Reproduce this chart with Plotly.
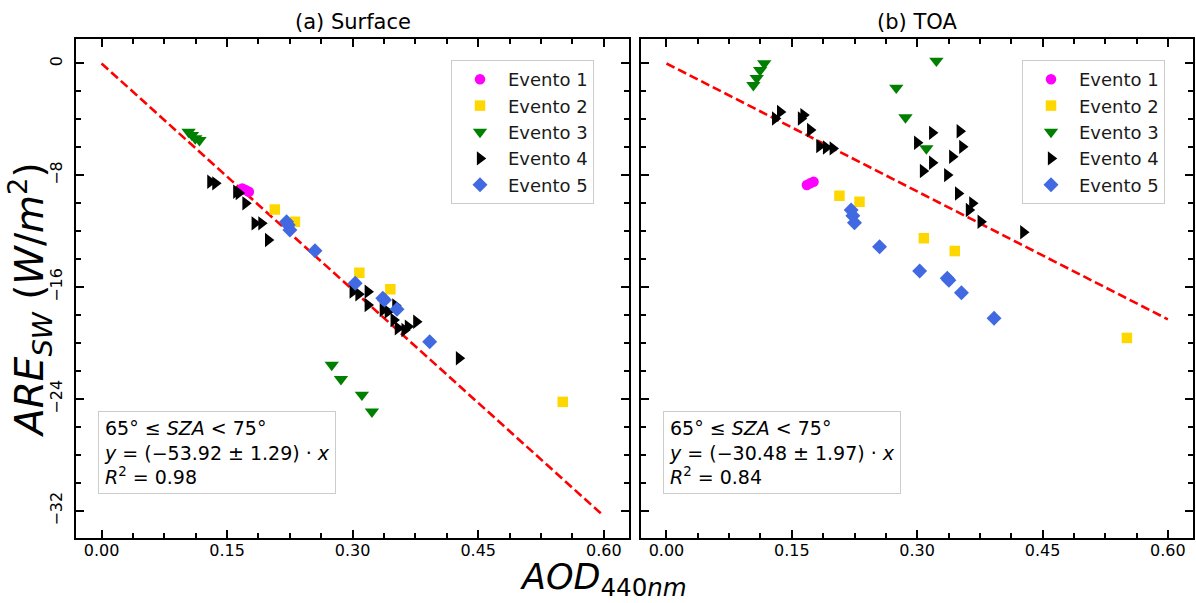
import plotly.graph_objects as go

# ---- data -----------------------------------------------------------------
events = ["Evento 1", "Evento 2", "Evento 3", "Evento 4", "Evento 5"]
colors = ["#ff00ff", "#ffd700", "#008000", "#000000", "#4169e1"]
symbols = ["circle", "square", "triangle-down", "triangle-right", "diamond"]
marker_sizes = [10.5, 10.5, 12.5, 12.5, 11.5]

# AOD at 440 nm per event (shared by both panels)
aod_e1 = [0.168, 0.172, 0.176]
aod_e2 = [0.207, 0.231, 0.308, 0.345, 0.551]
aod_e3 = [0.104, 0.108, 0.112, 0.117, 0.275, 0.286, 0.311, 0.323]
aod_e4 = [0.130, 0.136, 0.161, 0.164, 0.172, 0.183, 0.191, 0.199, 0.300, 0.307,
          0.318, 0.318, 0.336, 0.342, 0.349, 0.351, 0.354, 0.362, 0.366, 0.376,
          0.427]
aod_e5 = [0.221, 0.223, 0.225, 0.255, 0.303, 0.336, 0.338, 0.353, 0.392]

# Radiative effect at the surface (W/m2)
sfc_e1 = [-8.93, -9.05, -9.17]
sfc_e2 = [-10.43, -11.31, -14.96, -16.14, -24.19]
sfc_e3 = [-4.89, -5.12, -5.36, -5.48, -21.55, -22.57, -23.69, -24.89]
sfc_e4 = [-8.46, -8.57, -9.17, -9.26, -10.00, -11.43, -11.43, -12.62, -16.31,
          -16.50, -16.31, -17.26, -17.62, -17.74, -18.34, -17.30, -18.93,
          -19.05, -18.81, -18.46, -21.07]
sfc_e5 = [-11.31, -11.55, -11.91, -13.39, -15.71, -16.79, -16.91, -17.57, -19.89]

# Radiative effect at the top of the atmosphere (W/m2)
toa_e1 = [-8.69, -8.57, -8.46]
toa_e2 = [-9.46, -9.89, -12.50, -13.41, -19.62]
toa_e3 = [-1.55, -1.05, -0.48, 0.00, -1.74, -3.86, -6.07, 0.19]
toa_e4 = [-3.93, -3.46, -3.93, -3.69, -4.76, -5.91, -6.00, -6.07, -5.67, -7.69,
          -4.96, -7.10, -7.98, -6.67, -9.29, -4.84, -5.96, -10.48, -10.00,
          -11.31, -12.07]
toa_e5 = [-10.48, -10.89, -11.39, -13.10, -14.84, -15.36, -15.50, -16.39, -18.21]

aod_all = [aod_e1, aod_e2, aod_e3, aod_e4, aod_e5]
sfc_all = [sfc_e1, sfc_e2, sfc_e3, sfc_e4, sfc_e5]
toa_all = [toa_e1, toa_e2, toa_e3, toa_e4, toa_e5]

# Linear fits through the origin
panel_titles = ["(a) Surface", "(b) TOA"]
fit_slope = [-53.92, -30.48]
fit_err = [1.29, 1.97]
fit_r2 = [0.98, 0.84]
fit_x = [0.0, 0.60]
sza_text = "65° ≤ <i>SZA</i> < 75°"

x_ticks = [0.00, 0.15, 0.30, 0.45, 0.60]
y_ticks = [0, -8, -16, -24, -32]

# ---- layout geometry --------------------------------------------------------
W, H = 1196, 603
FONT = "DejaVu Sans"
x_domains = [[76 / W, 629 / W], [641 / W, 1193 / W]]
y_domain = [1 - 537.7 / H, 1 - 39 / H]
x_range = [-0.0305, 0.6301]
y_range = [-33.9, 1.75]

fig = go.Figure()

for p, values in enumerate([sfc_all, toa_all]):
    xa = "x" if p == 0 else "x2"
    ya = "y" if p == 0 else "y2"
    lg = "legend" if p == 0 else "legend2"
    # regression line
    fig.add_trace(go.Scatter(
        x=fit_x, y=[fit_slope[p] * v for v in fit_x], mode="lines",
        line=dict(color="#ff0000", width=2.6, dash="9px,4px"),
        xaxis=xa, yaxis=ya, showlegend=False, hoverinfo="skip"))
    for i, name in enumerate(events):
        fig.add_trace(go.Scatter(
            x=aod_all[i], y=values[i], mode="markers", name=name,
            marker=dict(symbol=symbols[i], color=colors[i], size=marker_sizes[i],
                        line=dict(width=0)),
            xaxis=xa, yaxis=ya, legend=lg, legendgroup=f"{lg}{i}"))

axis_common = dict(
    showline=True, linewidth=2, linecolor="black", mirror="ticks",
    ticks="inside", ticklen=8, tickwidth=1.6, tickcolor="black",
    showgrid=False, zeroline=False,
    tickfont=dict(family=FONT, size=16, color="black"),
)

for p in range(2):
    key = "xaxis" if p == 0 else "xaxis2"
    fig.update_layout({key: dict(
        axis_common, domain=x_domains[p], range=x_range,
        tickmode="array", tickvals=x_ticks,
        ticktext=[f"{v:.2f}" for v in x_ticks],
        anchor="y" if p == 0 else "y2", ticklabelstandoff=-3,
        minor=dict(ticks="inside", ticklen=5, tickwidth=1.6, tickcolor="black",
                   dtick=0.0375, tick0=0, showgrid=False),
    )})

fig.update_layout(
    yaxis=dict(axis_common, domain=y_domain, range=y_range,
               tickmode="array", tickvals=y_ticks,
               ticktext=[str(v).replace("-", "−") for v in y_ticks],
               tickangle=-90, anchor="x", ticklabelstandoff=6,
               minor=dict(ticks="inside", ticklen=5, tickwidth=1.6,
                          tickcolor="black", dtick=2, tick0=0, showgrid=False)),
    yaxis2=dict(axis_common, domain=y_domain, range=y_range, matches="y",
                tickmode="array", tickvals=y_ticks, showticklabels=False,
                anchor="x2",
                minor=dict(ticks="inside", ticklen=5, tickwidth=1.6,
                           tickcolor="black", dtick=2, tick0=0, showgrid=False)),
)

legend_common = dict(
    font=dict(family=FONT, size=18, color="#1a1a1a"),
    bgcolor="white", bordercolor="#cccccc", borderwidth=1,
    xanchor="right", yanchor="top", tracegroupgap=0, itemwidth=46,
)
fig.update_layout(
    legend=dict(legend_common, x=594 / W, y=1 - 60 / H),
    legend2=dict(legend_common, x=1165 / W, y=1 - 60 / H),
)

annotations = []
for p in range(2):
    cx = (x_domains[p][0] + x_domains[p][1]) / 2
    annotations.append(dict(
        text=panel_titles[p], x=cx, y=1 - 22 / H, xref="paper", yref="paper",
        showarrow=False, font=dict(family=FONT, size=21, color="black"),
        xanchor="center", yanchor="middle"))
    slope = f"{fit_slope[p]:.2f}".replace("-", "−")
    box = (f"{sza_text}<br><i>y</i> = ({slope} ± {fit_err[p]:.2f}) · <i>x</i>"
           f"<br><i>R</i><sup>2</sup> = {fit_r2[p]:.2f}")
    annotations.append(dict(
        text=box, x=x_domains[p][0] + 22 / W, y=1 - 494 / H,
        xref="paper", yref="paper", showarrow=False, align="left",
        xanchor="left", yanchor="bottom",
        font=dict(family=FONT, size=19, color="black"),
        bgcolor="white", bordercolor="#cccccc", borderwidth=1, borderpad=5))

annotations.append(dict(
    text="<i>AOD</i><sub>440<i>nm</i></sub>", x=603 / W, y=0,
    xref="paper", yref="paper", showarrow=False,
    font=dict(family=FONT, size=35, color="black"),
    xanchor="center", yanchor="bottom", borderpad=0))
annotations.append(dict(
    text="<i>ARE</i><sub><i>SW</i></sub> (<i>W</i>/<i>m</i><sup>2</sup>)",
    x=30 / W, y=1 - 300 / H, xref="paper", yref="paper", showarrow=False,
    textangle=-90, font=dict(family=FONT, size=39, color="black"),
    xanchor="center", yanchor="middle"))

fig.update_layout(
    width=W, height=H, autosize=False,
    margin=dict(l=0, r=0, t=0, b=0),
    paper_bgcolor="white", plot_bgcolor="white",
    annotations=annotations,
)

fig.write_html("out.html")
